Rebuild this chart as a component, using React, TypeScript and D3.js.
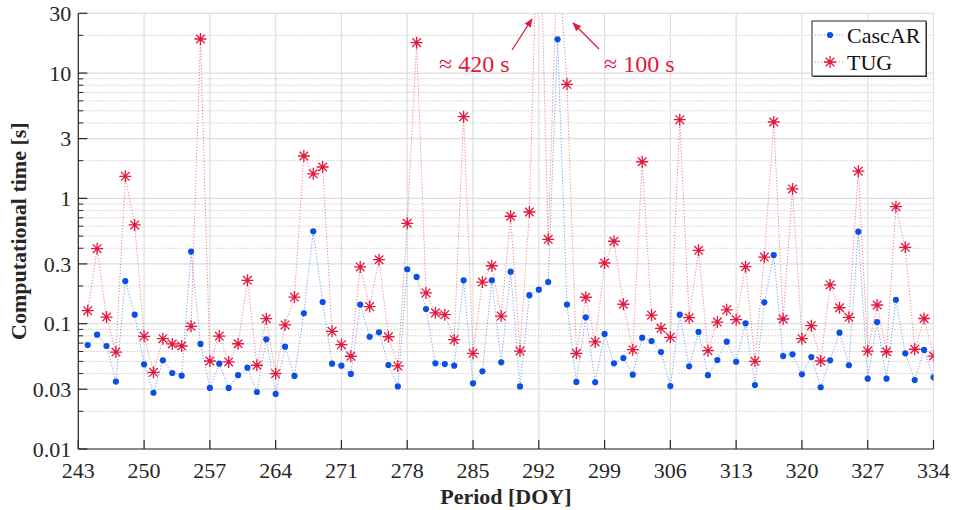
import React from 'react';
import * as d3 from 'd3';

// First DOY of the series (one value per day)
const firstDay = 244;

const cascARValues = [
  0.0676, 0.0817, 0.0664, 0.0345, 0.219, 0.118, 0.0474, 0.0281, 0.0511, 0.0404,
  0.0385, 0.376, 0.0689, 0.0307, 0.048, 0.0307, 0.0388, 0.0446, 0.0285, 0.075,
  0.0275, 0.0656, 0.0383, 0.121, 0.546, 0.149, 0.048, 0.0462, 0.0397, 0.142,
  0.0787, 0.0853, 0.0468, 0.0316, 0.272, 0.236, 0.131, 0.0483, 0.0476, 0.0462,
  0.222, 0.0334, 0.0417, 0.222, 0.0492, 0.26, 0.0316, 0.169, 0.187, 0.215,
  18.6, 0.142, 0.0343, 0.1125, 0.0341, 0.0828, 0.0483, 0.0532, 0.0392, 0.0773,
  0.0727, 0.0594, 0.0318, 0.118, 0.0457, 0.0859, 0.0388, 0.0513, 0.0718, 0.0497,
  0.1007, 0.0324, 0.148, 0.353, 0.0552, 0.057, 0.0395, 0.0542, 0.0311, 0.0511,
  0.0848, 0.0466, 0.542, 0.0364, 0.103, 0.0364, 0.155, 0.058, 0.0355, 0.0617,
  0.0373,
];

const tugValues = [
  0.127, 0.397, 0.113, 0.0594, 1.5, 0.614, 0.0793, 0.0409, 0.0759, 0.0689,
  0.0664, 0.0953, 18.7, 0.0504, 0.0796, 0.0495, 0.0692, 0.222, 0.0466, 0.1096,
  0.0399, 0.0977, 0.163, 2.18, 1.57, 1.78, 0.0869, 0.068, 0.055, 0.284,
  0.137, 0.324, 0.0787, 0.046, 0.633, 17.5, 0.176, 0.122, 0.118, 0.0745,
  4.49, 0.058, 0.215, 0.29, 0.115, 0.72, 0.0605, 0.779, 420, 0.471,
  100, 8.14, 0.058, 0.1625, 0.0715, 0.305, 0.455, 0.143, 0.062, 1.96,
  0.117, 0.0919, 0.0779, 4.25, 0.1116, 0.385, 0.0609, 0.103, 0.129, 0.1076,
  0.285, 0.0501, 0.34, 4.07, 0.109, 1.19, 0.0759, 0.0964, 0.0504, 0.204,
  0.134, 0.1125, 1.65, 0.0605, 0.141, 0.0597, 0.859, 0.407, 0.0625, 0.11,
  0.0552,
];

const xTicks = [243, 250, 257, 264, 271, 278, 285, 292, 299, 306, 313, 320, 327, 334];
const yTicks = [0.01, 0.03, 0.1, 0.3, 1, 3, 10, 30];
const yTickLabels = ['0.01', '0.03', '0.1', '0.3', '1', '3', '10', '30'];
const yMinor = [0.02, 0.04, 0.05, 0.06, 0.07, 0.08, 0.09, 0.2, 0.4, 0.5, 0.6, 0.7, 0.8, 0.9, 2, 4, 5, 6, 7, 8, 9, 20];

const seriesNames = ['CascAR', 'TUG'];
const annotations = ['≈ 420 s', '≈ 100 s'];

const W = 957;
const H = 510;
const L = 78.3, R = 933.5, T = 13.3, B = 449;
const BLUE = '#0a50e6';
const RED = '#e6173c';
const FONT = '"Liberation Serif", "Times New Roman", serif';

const star = 'M-6,0H6M0,-6V6M-4.3,-4.3L4.3,4.3M-4.3,4.3L4.3,-4.3';

export default function App() {
  const x = d3.scaleLinear().domain([243, 334]).range([L, R]);
  const y = d3.scaleLog().domain([0.01, 30]).range([B, T]);

  const cas = cascARValues.map((v, i) => ({ d: firstDay + i, v }));
  const tug = tugValues.map((v, i) => ({ d: firstDay + i, v }));
  const line = d3.line<{ d: number; v: number }>().x(p => x(p.d)).y(p => y(p.v));

  return (
    <svg width={W} height={H} style={{ position: 'absolute', left: 0, top: 0, background: '#fff' }} fontFamily={FONT}>
      <defs>
        <clipPath id="plot">
          <rect x={L} y={T} width={R - L} height={B - T} />
        </clipPath>
        <marker id="ah" viewBox="0 0 10 10" refX="9" refY="5" markerWidth="9" markerHeight="9" orient="auto-start-reverse" markerUnits="userSpaceOnUse">
          <path d="M0,1 L10,5 L0,9 z" fill={RED} />
        </marker>
      </defs>
      <rect x={0} y={0} width={W} height={H} fill="#fff" />
      {/* minor grid */}
      {yMinor.map(v => (
        <line key={'m' + v} x1={L} x2={R} y1={y(v)} y2={y(v)} stroke="#cfcfcf" strokeWidth={1} strokeDasharray="1.5,1.5" />
      ))}
      {/* major grid */}
      {yTicks.map(v => (
        <line key={'g' + v} x1={L} x2={R} y1={y(v)} y2={y(v)} stroke="#dedede" strokeWidth={1.2} />
      ))}
      {xTicks.map(v => (
        <line key={'gx' + v} x1={x(v)} x2={x(v)} y1={T} y2={B} stroke="#dedede" strokeWidth={1.2} />
      ))}

      {/* series */}
      <g clipPath="url(#plot)">
        <path d={line(cas) || ''} fill="none" stroke={BLUE} strokeOpacity={0.55} strokeWidth={1} strokeDasharray="1.2,1.8" />
        <path d={line(tug) || ''} fill="none" stroke={RED} strokeOpacity={0.55} strokeWidth={1} strokeDasharray="1.2,1.8" />
        {cas.map(p => (
          <circle key={'c' + p.d} cx={x(p.d)} cy={y(p.v)} r={3.1} fill={BLUE} />
        ))}
        {tug.map(p => (
          <g key={'t' + p.d} transform={`translate(${x(p.d)},${y(p.v)})`}>
            <path d={star} stroke={RED} strokeWidth={1.3} fill="none" />
            <circle r={1.4} fill={RED} />
          </g>
        ))}
      </g>

      {/* axes */}
      <line x1={L} x2={L} y1={T} y2={B} stroke="#262626" strokeWidth={1.2} />
      <line x1={L} x2={R} y1={B} y2={B} stroke="#262626" strokeWidth={1.2} />
      {yTicks.map(v => (
        <line key={'yt' + v} x1={L} x2={L + 9} y1={y(v)} y2={y(v)} stroke="#262626" strokeWidth={1.2} />
      ))}
      {yMinor.map(v => (
        <line key={'ym' + v} x1={L} x2={L + 5} y1={y(v)} y2={y(v)} stroke="#262626" strokeWidth={1} />
      ))}
      {xTicks.map(v => (
        <line key={'xt' + v} x1={x(v)} x2={x(v)} y1={B} y2={B - 9} stroke="#262626" strokeWidth={1.2} />
      ))}
      {yTicks.map((v, i) => (
        <text key={'yl' + v} x={L - 7} y={y(v)} dy="0.35em" textAnchor="end" fontSize={22} fill="#262626">
          {yTickLabels[i]}
        </text>
      ))}
      {xTicks.map(v => (
        <text key={'xl' + v} x={x(v)} y={478} textAnchor="middle" fontSize={22} fill="#262626">
          {v}
        </text>
      ))}
      <text x={(L + R) / 2} y={504} textAnchor="middle" fontSize={22} fontWeight="bold" fill="#262626">
        Period [DOY]
      </text>
      <text transform={`translate(26,${(T + B) / 2}) rotate(-90)`} textAnchor="middle" fontSize={22} fontWeight="bold" fill="#262626">
        Computational time [s]
      </text>

      {/* annotations */}
      <text x={439} y={72} fontSize={24} fill={RED}>{annotations[0]}</text>
      <text x={604} y={72} fontSize={24} fill={RED}>{annotations[1]}</text>
      <line x1={512} y1={50} x2={532} y2={19} stroke={RED} strokeWidth={1.3} markerEnd="url(#ah)" />
      <line x1={599} y1={49} x2={573} y2={23} stroke={RED} strokeWidth={1.3} markerEnd="url(#ah)" />

      {/* legend */}
      <rect x={813} y={22} width={114} height={55} fill="#333" />
      <rect x={812} y={21} width={114} height={55} fill="#fff" stroke="#262626" strokeWidth={1} />
      <line x1={815} x2={845} y1={35} y2={35} stroke={BLUE} strokeOpacity={0.55} strokeDasharray="1.2,1.8" />
      <circle cx={830} cy={35} r={3.1} fill={BLUE} />
      <text x={847} y={35} dy="0.35em" fontSize={22} fill="#111">{seriesNames[0]}</text>
      <line x1={815} x2={845} y1={62} y2={62} stroke={RED} strokeOpacity={0.55} strokeDasharray="1.2,1.8" />
      <g transform="translate(830,62)">
        <path d={star} stroke={RED} strokeWidth={1.3} fill="none" />
        <circle r={1.4} fill={RED} />
      </g>
      <text x={847} y={62} dy="0.35em" fontSize={22} fill="#111">{seriesNames[1]}</text>
    </svg>
  );
}
